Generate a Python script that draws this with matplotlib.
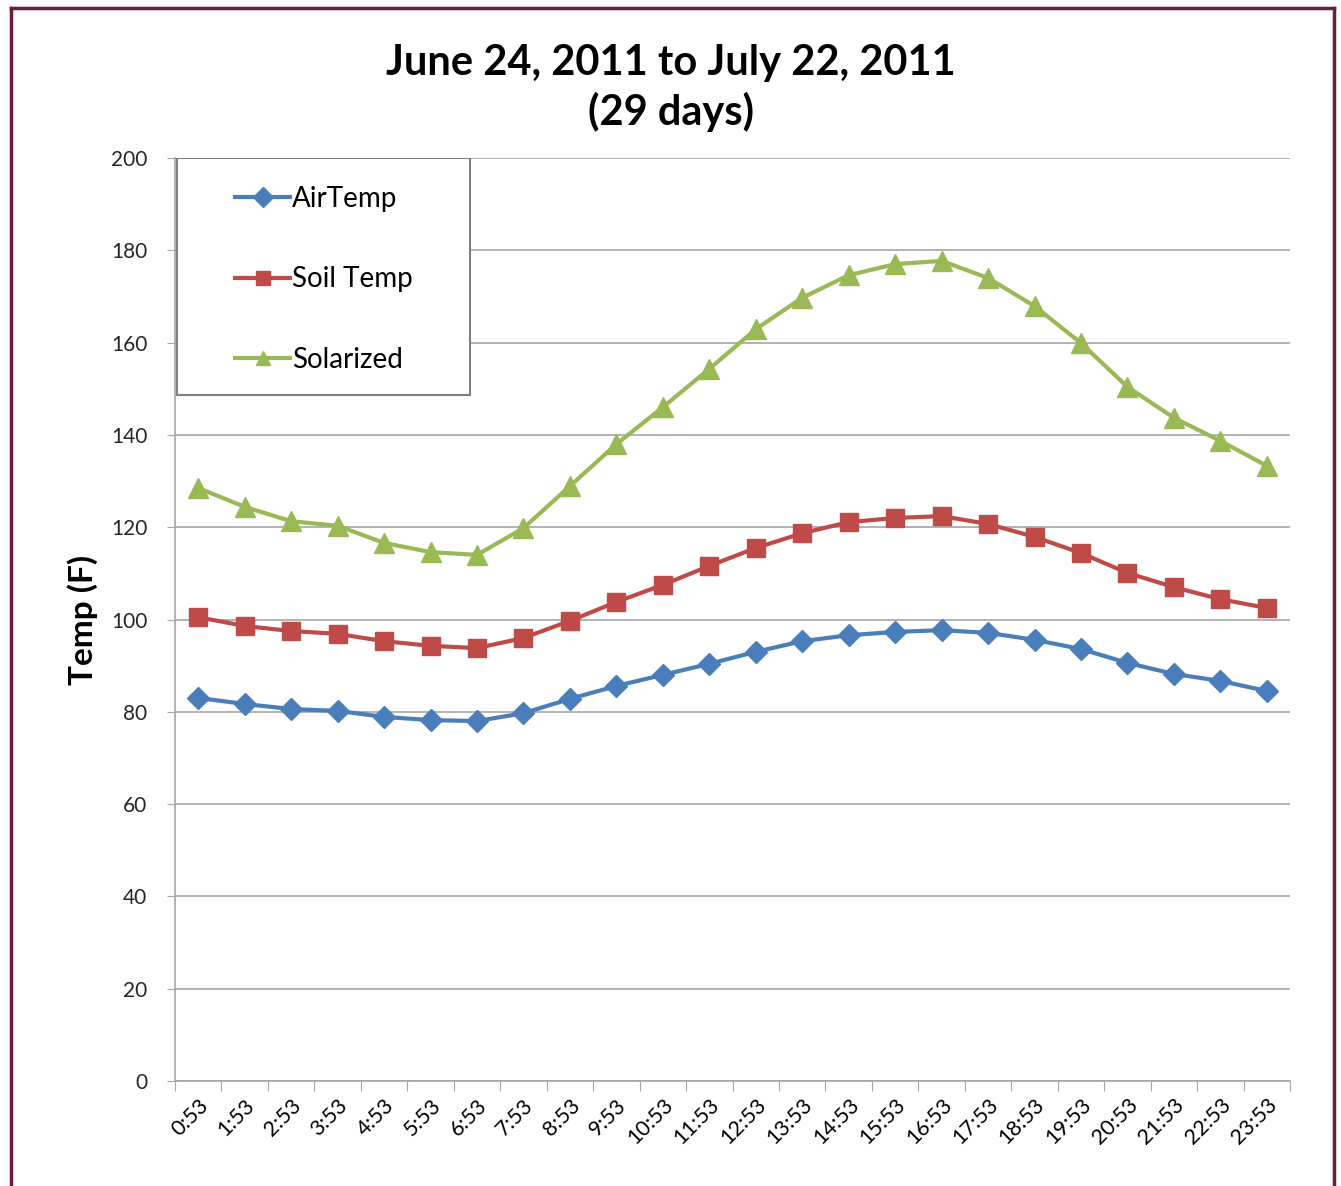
import matplotlib.pyplot as plt
from matplotlib.lines import Line2D
from matplotlib.patches import Rectangle

times = ["0:53", "1:53", "2:53", "3:53", "4:53", "5:53", "6:53", "7:53", "8:53", "9:53",
         "10:53", "11:53", "12:53", "13:53", "14:53", "15:53", "16:53", "17:53", "18:53",
         "19:53", "20:53", "21:53", "22:53", "23:53"]

air_temp = [83.0, 81.7, 80.6, 80.2, 78.9, 78.2, 78.0, 79.7, 82.8, 85.6, 88.0, 90.4,
            93.0, 95.3, 96.6, 97.3, 97.7, 97.1, 95.6, 93.6, 90.6, 88.2, 86.7, 84.5]
soil_temp = [100.5, 98.6, 97.5, 96.9, 95.3, 94.3, 93.8, 96.0, 99.7, 103.8, 107.5, 111.6,
             115.5, 118.7, 121.1, 122.0, 122.4, 120.7, 117.9, 114.4, 110.1, 107.0, 104.4, 102.5]
solarized = [128.5, 124.4, 121.3, 120.3, 116.6, 114.6, 114.0, 119.8, 128.9, 138.0, 146.0, 154.3,
             162.9, 169.7, 174.6, 177.0, 177.7, 174.0, 167.9, 159.9, 150.4, 143.7, 138.7, 133.3]

plt.rcParams['font.family'] = ['Lato', 'DejaVu Sans']

fig = plt.figure(figsize=(13.41, 11.86), dpi=100)
ax = fig.add_axes([0.1305, 0.0885, 0.8315, 0.7783])

x = list(range(len(times)))
ax.plot(x, air_temp, "-D", color="#4a7ebb", lw=3, markersize=11, label="AirTemp")
ax.plot(x, soil_temp, "-s", color="#be4b48", lw=3, markersize=13, label="Soil Temp")
ax.plot(x, solarized, "-^", color="#98b954", lw=3, markersize=15, label="Solarized")

ax.set_xlim(-0.5, len(times) - 0.5)
ax.set_ylim(0, 200)
ax.set_yticks(range(0, 201, 20))
ax.yaxis.grid(True, color="#a6a6a6", lw=1.2)
ax.set_axisbelow(True)

# tick marks sit between the categories, labels under each point
ax.set_xticks([i - 0.5 for i in range(len(times) + 1)])
ax.set_xticklabels([])
ax.set_xticks(x, minor=True)
ax.set_xticklabels(times, minor=True, rotation=45, ha="right", rotation_mode="anchor", fontsize=15.5)
ax.tick_params(axis="x", which="minor", length=0, pad=10)
ax.tick_params(axis="x", which="major", length=7, color="#a6a6a6", direction="out")
ax.tick_params(axis="y", length=6, color="#a6a6a6", labelsize=15, pad=14, labelcolor="#262626")
ax.tick_params(axis="x", labelcolor="#262626")

for side in ["top", "right"]:
    ax.spines[side].set_visible(False)
for side in ["left", "bottom"]:
    ax.spines[side].set_color("#a6a6a6")
    ax.spines[side].set_linewidth(1.2)

ax.set_ylabel("Temp (F)", fontsize=24, fontweight="bold", labelpad=9)

fig.text(0.5, 0.926, "June 24, 2011 to July 22, 2011\n(29 days)", ha="center", va="center",
         fontsize=30, fontweight="bold", linespacing=1.3)

# legend box drawn on its own so its size matches the original
box = Rectangle((0.0018, 0.7432), 0.2628, 0.2568, transform=ax.transAxes, facecolor="white",
                edgecolor="#7f7f7f", lw=1.5, zorder=4)
ax.add_patch(box)
leg = ax.legend(loc="upper left", bbox_to_anchor=(0.1752, 0.8435), bbox_transform=fig.transFigure,
                fontsize=20, labelspacing=1.97, borderpad=0, handlelength=2.0, handletextpad=0.05,
                frameon=False, borderaxespad=0)
leg.set_zorder(5)
for h in leg.legend_handles:
    h.set_markersize(10)

# outer border of the chart area
border = "#6b1d3b"
fig.add_artist(Line2D([0.008, 0.008], [0.0, 0.993], color=border, lw=2.5, transform=fig.transFigure))
fig.add_artist(Line2D([0.008, 0.995], [0.993, 0.993], color=border, lw=2.5, transform=fig.transFigure))
fig.add_artist(Line2D([0.995, 0.995], [0.0, 0.993], color=border, lw=2.5, transform=fig.transFigure))

fig.savefig("out.png", dpi=100)
